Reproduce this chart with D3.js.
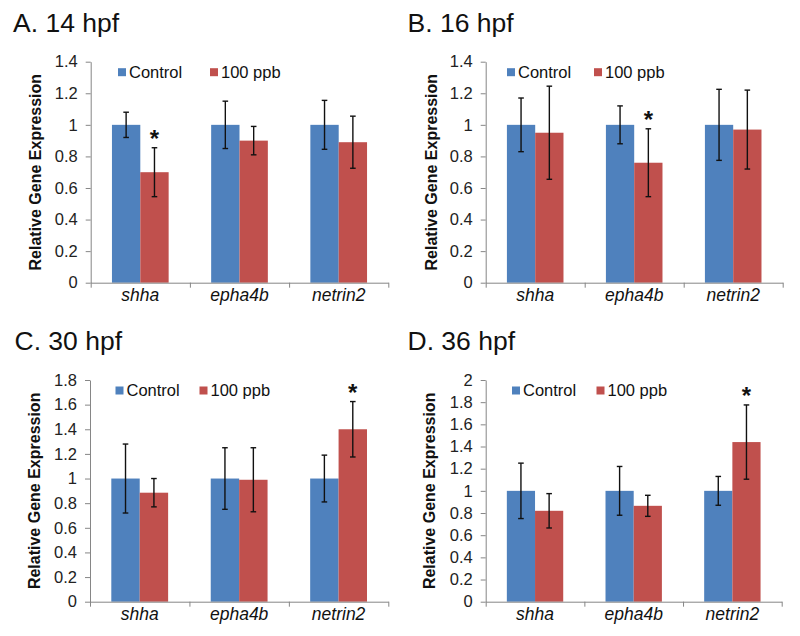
<!DOCTYPE html>
<html>
<head>
<meta charset="utf-8">
<script src="https://cdn.jsdelivr.net/npm/d3@7"></script>
<style>
  body { margin: 0; background: #fff; }
  svg { display: block; font-family: 'Liberation Sans', Arial, sans-serif; }
</style>
</head>
<body>
<div id="chart"></div>
<script>
// ==============================
// data
// ==============================
const genes = ['shha', 'epha4b', 'netrin2'];
const seriesNames = ['Control', '100 ppb'];
const panelTitles = ['A. 14 hpf', 'B. 16 hpf', 'C. 30 hpf', 'D. 36 hpf'];
const yMax = [1.4, 1.4, 1.8, 2];

// one row per panel, one value per gene
const controlVals = [[1, 1, 1], [1, 1, 1], [1, 1, 1], [1, 1, 1]];
const controlErr = [
  [0.08, 0.15, 0.155],
  [0.17, 0.12, 0.225],
  [0.28, 0.25, 0.19],
  [0.25, 0.22, 0.13],
];
const treatedVals = [
  [0.70, 0.90, 0.89],
  [0.95, 0.76, 0.97],
  [0.885, 0.99, 1.40],
  [0.82, 0.865, 1.44],
];
const treatedErr = [
  [0.155, 0.09, 0.165],
  [0.295, 0.215, 0.25],
  [0.115, 0.26, 0.225],
  [0.155, 0.095, 0.335],
];
// gene marked with * (100 ppb bar) in each panel
const sigGene = ['shha', 'epha4b', 'netrin2', 'netrin2'];

// ==============================
// layout (pixels)
// ==============================
const colors = { Control: '#4F81BD', '100 ppb': '#C0504D' };
const axisColor = '#868686';
const panels = [
  { left: 90.7, right: 388.3, top: 61.7, bottom: 282.7, titleX: 13, titleY: 32, labelX: 35, legX: [118, 210] },
  { left: 485.7, right: 782.7, top: 61.7, bottom: 282.7, titleX: 407.5, titleY: 32, labelX: 431, legX: [507, 594] },
  { left: 90, right: 388.3, top: 380, bottom: 601.7, titleX: 14.5, titleY: 350, labelX: 34, legX: [115.5, 199.5] },
  { left: 485.7, right: 781.7, top: 380, bottom: 601.7, titleX: 407.5, titleY: 349.5, labelX: 429, legX: [512, 596.5] },
];

const svg = d3.select('#chart')
  .append('svg')
  .attr('width', 800)
  .attr('height', 636);

svg.append('rect').attr('width', 800).attr('height', 636).attr('fill', '#fff');

function drawPanel(i) {
  const p = panels[i];
  const g = svg.append('g');

  const rows = genes.map((gene, j) => ({
    gene,
    bars: [
      { key: 'Control', value: controlVals[i][j], err: controlErr[i][j] },
      { key: '100 ppb', value: treatedVals[i][j], err: treatedErr[i][j] },
    ],
  }));

  const x = d3.scaleBand().domain(genes).range([p.left, p.right]);
  const xSub = d3.scaleBand()
    .domain(seriesNames)
    .range([0, x.bandwidth()])
    .paddingOuter(0.75);
  const y = d3.scaleLinear().domain([0, yMax[i]]).range([p.bottom, p.top]);

  // title
  g.append('text')
    .attr('x', p.titleX)
    .attr('y', p.titleY)
    .attr('font-size', 26.5)
    .attr('fill', '#111')
    .text(panelTitles[i]);

  // y axis
  const yTicks = d3.ticks(0, yMax[i], Math.round(yMax[i] / 0.2));
  const yAxisG = g.append('g')
    .attr('transform', `translate(${p.left},0)`)
    .call(d3.axisLeft(y).tickValues(yTicks).tickFormat(d3.format('~g'))
      .tickSize(5).tickSizeOuter(0).tickPadding(8));
  yAxisG.select('.domain').attr('stroke', axisColor);
  yAxisG.selectAll('.tick line').attr('stroke', axisColor);
  yAxisG.selectAll('.tick text')
    .attr('font-size', 16.5)
    .attr('font-family', null)
    .attr('fill', '#222');

  // y label
  g.append('text')
    .attr('transform', `translate(${p.labelX},${(p.top + p.bottom) / 2}) rotate(-90)`)
    .attr('text-anchor', 'middle')
    .attr('dy', '0.35em')
    .attr('font-size', 16)
    .attr('font-weight', 'bold')
    .attr('fill', '#111')
    .text('Relative Gene Expression');

  // bars
  const groups = g.selectAll('g.grp')
    .data(rows)
    .join('g')
    .attr('class', 'grp')
    .attr('transform', (d) => `translate(${x(d.gene)},0)`);

  groups.selectAll('rect')
    .data((d) => d.bars)
    .join('rect')
    .attr('x', (d) => xSub(d.key))
    .attr('width', xSub.bandwidth())
    .attr('y', (d) => y(d.value))
    .attr('height', (d) => y(0) - y(d.value))
    .attr('fill', (d) => colors[d.key]);

  // error bars
  const eb = groups.selectAll('g.err')
    .data((d) => d.bars)
    .join('g')
    .attr('class', 'err')
    .attr('transform', (d) => `translate(${xSub(d.key) + xSub.bandwidth() / 2},0)`)
    .attr('stroke', '#111')
    .attr('stroke-width', 1.4);
  eb.append('line')
    .attr('y1', (d) => y(d.value + d.err))
    .attr('y2', (d) => y(d.value - d.err));
  eb.append('line')
    .attr('x1', -2.8).attr('x2', 2.8)
    .attr('y1', (d) => y(d.value + d.err))
    .attr('y2', (d) => y(d.value + d.err));
  eb.append('line')
    .attr('x1', -2.8).attr('x2', 2.8)
    .attr('y1', (d) => y(d.value - d.err))
    .attr('y2', (d) => y(d.value - d.err));

  // significance star
  const sig = rows.find((r) => r.gene === sigGene[i]).bars[1];
  g.append('text')
    .attr('x', x(sigGene[i]) + xSub('100 ppb') + xSub.bandwidth() / 2)
    .attr('y', y(sig.value + sig.err) - 1)
    .attr('text-anchor', 'middle')
    .attr('font-size', 24)
    .attr('font-weight', 'bold')
    .attr('fill', '#111')
    .text('*');

  // x axis: boundary ticks + category labels
  const xb = d3.scaleLinear().domain([0, genes.length]).range([p.left, p.right]);
  const xAxisG = g.append('g')
    .attr('transform', `translate(0,${p.bottom})`)
    .call(d3.axisBottom(xb).tickValues(d3.range(genes.length + 1))
      .tickFormat('').tickSize(5).tickSizeOuter(0));
  xAxisG.select('.domain').attr('stroke', axisColor);
  xAxisG.selectAll('.tick line').attr('stroke', axisColor);

  const catG = g.append('g')
    .attr('transform', `translate(0,${p.bottom})`)
    .call(d3.axisBottom(x).tickSize(0).tickPadding(6));
  catG.select('.domain').remove();
  catG.selectAll('.tick text')
    .attr('font-size', 17.5)
    .attr('font-style', 'italic')
    .attr('font-family', null)
    .attr('fill', '#111');

  // legend
  const legY = p.top + 10.5;
  seriesNames.forEach((name, k) => {
    g.append('rect')
      .attr('x', p.legX[k])
      .attr('y', legY - 4)
      .attr('width', 8)
      .attr('height', 8)
      .attr('fill', colors[name]);
    g.append('text')
      .attr('x', p.legX[k] + 11)
      .attr('y', legY)
      .attr('dy', '0.36em')
      .attr('font-size', 16.5)
      .attr('fill', '#111')
      .text(name);
  });
}

panels.forEach((p, i) => drawPanel(i));
</script>
</body>
</html>
